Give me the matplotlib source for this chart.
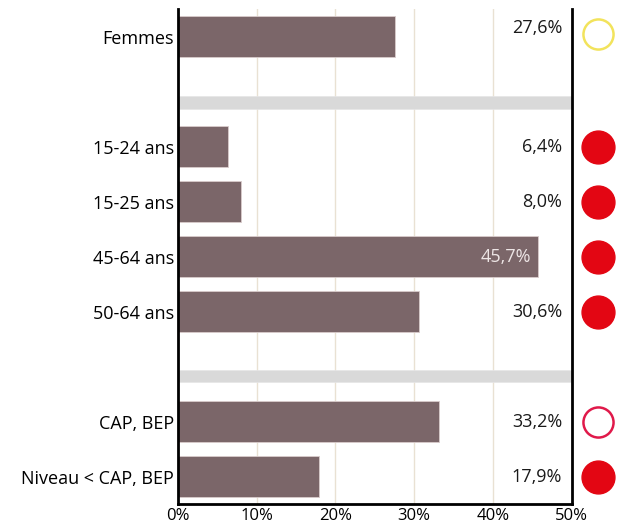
import matplotlib.pyplot as plt

plt.rcParams['font.family'] = ['Open Sans', 'DejaVu Sans']

# data
labels = ['Femmes', '15-24 ans', '15-25 ans', '45-64 ans', '50-64 ans',
          'CAP, BEP', 'Niveau < CAP, BEP']
values = [27.6, 6.4, 8.0, 45.7, 30.6, 33.2, 17.9]
value_text = ['27,6%', '6,4%', '8,0%', '45,7%', '30,6%', '33,2%', '17,9%']
status = ['yellow_ring', 'red', 'red', 'red', 'red', 'red_ring', 'red']

# layout: row positions (top to bottom) and separator rows
rows = [0, 2, 3, 4, 5, 7, 8]
separators = [1.2, 6.17]

BAR = '#7b6669'
RED = '#e30613'


def main():
    fig = plt.figure(figsize=(6.19, 5.29), dpi=100)
    ax = fig.add_axes([0.2876, 0.047, 0.636, 0.936])

    for x in [10, 20, 30, 40]:
        ax.axvline(x, color='#e9e1d3', lw=1, zorder=0)

    ax.barh(rows, values, height=0.74, color=BAR, edgecolor='#d9cccc',
            lw=0.6, zorder=2)
    ax.barh(separators, [50, 50], height=0.22, color='#d9d9d9',
            edgecolor='#e6e6e6', lw=0.5, zorder=2)

    for r, v, t in zip(rows, values, value_text):
        if v > 45:
            ax.text(v - 0.9, r, t, ha='right', va='center', fontsize=13,
                    color='#eee6e6', zorder=3)
        else:
            dy = -0.16 if r == 0 else 0
            ax.text(48.8, r + dy, t, ha='right', va='center', fontsize=13,
                    color='#1a1a1a', zorder=3)

    for r, s in zip(rows, status):
        dy = -0.05 if r == 0 else 0
        if s == 'red':
            ax.scatter(53.3, r + dy, s=560, color=RED, clip_on=False, zorder=4)
        elif s == 'red_ring':
            ax.scatter(53.3, r + dy, s=470, facecolor='white',
                       edgecolor='#e0194a', lw=1.8, clip_on=False, zorder=4)
        else:
            ax.scatter(53.3, r + dy, s=470, facecolor='white',
                       edgecolor='#f2e35c', lw=1.8, clip_on=False, zorder=4)

    ax.set_xlim(0, 50)
    ax.set_ylim(8.5, -0.5)
    ax.set_xticks([0, 10, 20, 30, 40, 50])
    ax.set_xticklabels(['0%', '10%', '20%', '30%', '40%', '50%'], fontsize=12)
    ax.set_yticks(rows)
    ax.set_yticklabels(labels, fontsize=13)
    ax.tick_params(length=0, pad=3)
    ax.tick_params(axis='x', pad=3)

    ax.spines['top'].set_visible(False)
    for sp in ['left', 'right', 'bottom']:
        ax.spines[sp].set_linewidth(2)
        ax.spines[sp].set_color('black')

    plt.savefig('out.png', dpi=100)


main()
